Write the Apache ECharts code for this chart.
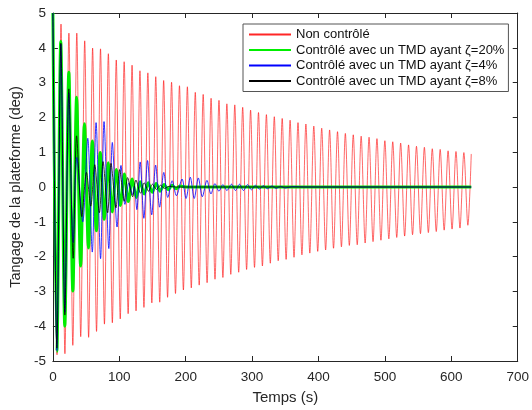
<!DOCTYPE html>
<html>
<head>
<meta charset="utf-8">
<script src="https://cdn.jsdelivr.net/npm/echarts@6/dist/echarts.min.js"></script>
<style>
html,body{margin:0;padding:0;background:#fff;}
#chart{width:532px;height:410px;}
</style>
</head>
<body>
<div id="chart"></div>
<script>
// ---- Data: extrema of each response ----
const xTicks = [0, 100, 200, 300, 400, 500, 600, 700];
const yTicks = [-5, -4, -3, -2, -1, 0, 1, 2, 3, 4, 5];

const seriesNames = [
  'Non contrôlé',
  'Contrôlé avec un TMD ayant ζ=20%',
  'Contrôlé avec un TMD ayant ζ=4%',
  'Contrôlé avec un TMD ayant ζ=8%'
];

// Uncontrolled (red)
const redTimes = [0,
  6.2,12.2, 18.1,24.1, 30.0,36.0, 41.9,47.9, 53.8,59.8, 65.7,71.7, 77.6,83.5, 89.5,95.4,
  101.4,107.3, 113.3,119.2, 125.2,131.1, 137.1,143.0, 149.0,154.9, 160.9,166.8, 172.7,178.7,
  184.6,190.6, 196.5,202.5, 208.4,214.4, 220.3,226.3, 232.2,238.2, 244.1,250.1, 256.0,262.0,
  267.9,273.9, 279.8,285.8, 291.7,297.7, 303.6,309.6, 315.5,321.5, 327.4,333.4, 339.3,345.3,
  351.2,357.2, 363.1,369.1, 375.0,381.0, 386.9,392.9, 398.8,404.8, 410.7,416.7, 422.6,428.6,
  434.5,440.4, 446.4,452.3, 458.3,464.2, 470.2,476.1, 482.1,488.0, 494.0,499.9, 505.9,511.8,
  517.8,523.7, 529.7,535.6, 541.6,547.5, 553.5,559.4, 565.4,571.3, 577.3,583.2, 589.2,595.1,
  601.1,607.0, 613.0,618.9, 624.9, 630];
const redValues = [5,
  -4.82,4.68, -4.79,4.42, -4.55,4.42, -4.3,4.2, -4.32,3.99, -4.15,3.97, -3.94,3.83, -3.9,3.65,
  -3.79,3.6, -3.64,3.5, -3.56,3.34, -3.46,3.28, -3.33,3.17, -3.31,3.06, -3.17,3.01,
  -3.06,2.91, -2.96,2.88, -2.9,2.72, -2.82,2.66, -2.75,2.55, -2.65,2.49, -2.6,2.39,
  -2.51,2.36, -2.45,2.29, -2.37,2.21, -2.31,2.14, -2.27,2.08, -2.19,2.02, -2.12,1.97,
  -2.08,1.92, -2.02,1.85, -1.95,1.81, -1.9,1.75, -1.85,1.69, -1.81,1.64, -1.76,1.59,
  -1.72,1.54, -1.68,1.5, -1.66,1.46, -1.61,1.43, -1.57,1.39, -1.53,1.33, -1.49,1.3,
  -1.45,1.26, -1.41,1.21, -1.37,1.17, -1.34,1.14, -1.31,1.1, -1.28,1.08, -1.24,1.04,
  -1.21,1.02, -1.18,0.99, -1.1, 0.95];

// TMD zeta = 20% (green)
const greenTimes = [0, 6, 11.8, 17.9, 24, 30, 35.7, 41.8, 47.5, 53.6, 59.4, 65.5, 71.3, 77.4,
  83.3, 89.3, 95.5, 101.5, 107.5, 113.5, 119.5, 125.5, 131.5, 137.5, 143.5, 149.5, 155.5,
  161.5, 167.5, 173.5, 179.5, 185.5, 191.5, 200, 630];
const greenValues = [5, -4.72, 4.18, -4.0, 3.3, -2.99, 2.58, -2.27, 1.82, -1.75, 1.32, -1.26, 0.99, -0.93,
  0.7, -0.72, 0.5, -0.53, 0.37, -0.42, 0.23, -0.3, 0.15, -0.2, 0.12, -0.15, 0.1,
  -0.12, 0.07, -0.08, 0.05, -0.05, 0.03, 0, 0];

// TMD zeta = 4% (blue)
const blueTimes = [0, 6, 12, 18, 24, 30.5, 36, 45, 52.5, 59.3, 65, 71.8, 77, 84.2, 89.5, 96.6,
  102.5, 108.5, 114.5, 120, 122.5, 126.4, 131.4, 137, 142.5, 148.8, 154.7, 160.7, 167, 173,
  179.6, 186, 194.5, 200.5, 206.9, 212.8, 219, 225, 232, 238, 244, 250, 256, 262, 269, 275,
  281, 287, 293, 299, 305, 311, 317, 323, 330, 336, 343, 350, 360, 380, 630];
const blueValues = [5, -4.7, 4.1, -3.6, 2.7, -1.6, 0.85, -1.0, 1.4, -1.87, 1.85, -2.06, 1.88, -1.77, 1.28, -1.15,
  0.62, -0.5, 0.12, -0.22, 0.02, -0.65, 0.72, -0.9, 0.76, -0.8, 0.63, -0.58, 0.42, -0.3,
  0.18, -0.25, 0.23, -0.33, 0.28, -0.33, 0.26, -0.28, 0.19, -0.2, 0.1, -0.12, 0.07, -0.1, 0.08, -0.1,
  0.08, -0.1, 0.07, -0.08, 0.05, -0.06, 0.04, -0.05, 0.03, -0.04, 0.02, -0.03, 0.01, 0, 0];

// TMD zeta = 8% (black)
const blackTimes = [0, 6, 12, 18, 24, 30.5, 35.7, 43.5, 50.5, 57, 63, 70, 75.5, 82.5, 87.5, 95,
  100.5, 107.5, 112.5, 120, 125, 132, 137.5, 144, 150, 156, 162, 168, 175, 185, 630];
const blackValues = [5, -4.63, 4.13, -3.68, 2.82, -2.05, 1.47, -0.85, 0.42, -0.55, 0.64, -0.74, 0.73, -0.74, 0.68, -0.6,
  0.5, -0.41, 0.27, -0.28, 0.2, -0.18, 0.12, -0.12, 0.08, -0.07, 0.05, -0.04, 0.02, 0, 0];

// ---- Chart ----
function pairs(ts, vs) {
  const n = Math.min(ts.length, vs.length);
  const out = [];
  for (let i = 0; i < n; i++) out.push([ts[i], vs[i]]);
  return out;
}
const FONT = '"Liberation Sans", Arial, Helvetica, sans-serif';
const AX = '#262626';

const chart = echarts.init(document.getElementById('chart'), null, {renderer: 'canvas'});

const xMin = xTicks[0], xMax = xTicks[xTicks.length - 1], xInt = xTicks[1] - xTicks[0];
const yMin = yTicks[0], yMax = yTicks[yTicks.length - 1], yInt = yTicks[1] - yTicks[0];

function baseAxis(extra) {
  return Object.assign({
    type: 'value',
    axisLine: {show: true, onZero: false, lineStyle: {color: AX, width: 1}},
    axisTick: {show: true, inside: true, length: 5, lineStyle: {color: AX, width: 1}},
    splitLine: {show: false}
  }, extra);
}

const lineBase = {type: 'line', symbol: 'none', showSymbol: false, smooth: 0.3, animation: false, clip: true};

chart.setOption({
  animation: false,
  backgroundColor: '#fff',
  grid: {left: 49, right: 13, top: 13, bottom: 46, containLabel: false},
  legend: {
    orient: 'vertical',
    left: 243, top: 24,
    padding: [4, 4, 4, 5],
    itemWidth: 42, itemHeight: 14, itemGap: 2.5,
    itemStyle: {opacity: 0},
    backgroundColor: '#fff',
    borderColor: '#555', borderWidth: 1,
    textStyle: {fontSize: 13, color: '#111', fontFamily: FONT},
    data: seriesNames
  },
  xAxis: [
    baseAxis({min: xMin, max: xMax, interval: xInt, position: 'bottom',
      axisLabel: {fontSize: 13.5, color: AX, margin: 9, fontFamily: FONT},
      name: 'Temps (s)', nameLocation: 'middle', nameGap: 29,
      nameTextStyle: {fontSize: 15, color: AX, fontFamily: FONT}}),
    baseAxis({min: xMin, max: xMax, interval: xInt, position: 'top', axisLabel: {show: false}})
  ],
  yAxis: [
    baseAxis({min: yMin, max: yMax, interval: yInt, position: 'left',
      axisLabel: {fontSize: 13.5, color: AX, margin: 7, fontFamily: FONT},
      name: 'Tangage de la plateforme (deg)', nameLocation: 'middle', nameGap: 23,
      nameTextStyle: {fontSize: 14.5, color: AX, fontFamily: FONT}}),
    baseAxis({min: yMin, max: yMax, interval: yInt, position: 'right', axisLabel: {show: false}})
  ],
  series: [
    Object.assign({}, lineBase, {name: seriesNames[0], data: pairs(redTimes, redValues),
      color: '#ff3030', lineStyle: {color: '#ff0000', width: 0.7, opacity: 0.85}}),
    Object.assign({}, lineBase, {name: seriesNames[1], data: pairs(greenTimes, greenValues),
      color: '#00ee00', lineStyle: {color: '#00ee00', width: 3}}),
    Object.assign({}, lineBase, {name: seriesNames[2], data: pairs(blueTimes, blueValues),
      color: '#0000ff', lineStyle: {color: '#0000ff', width: 0.8}}),
    Object.assign({}, lineBase, {name: seriesNames[3], data: pairs(blackTimes, blackValues),
      color: '#000000', lineStyle: {color: '#000000', width: 0.8}})
  ]
});
</script>
</body>
</html>
